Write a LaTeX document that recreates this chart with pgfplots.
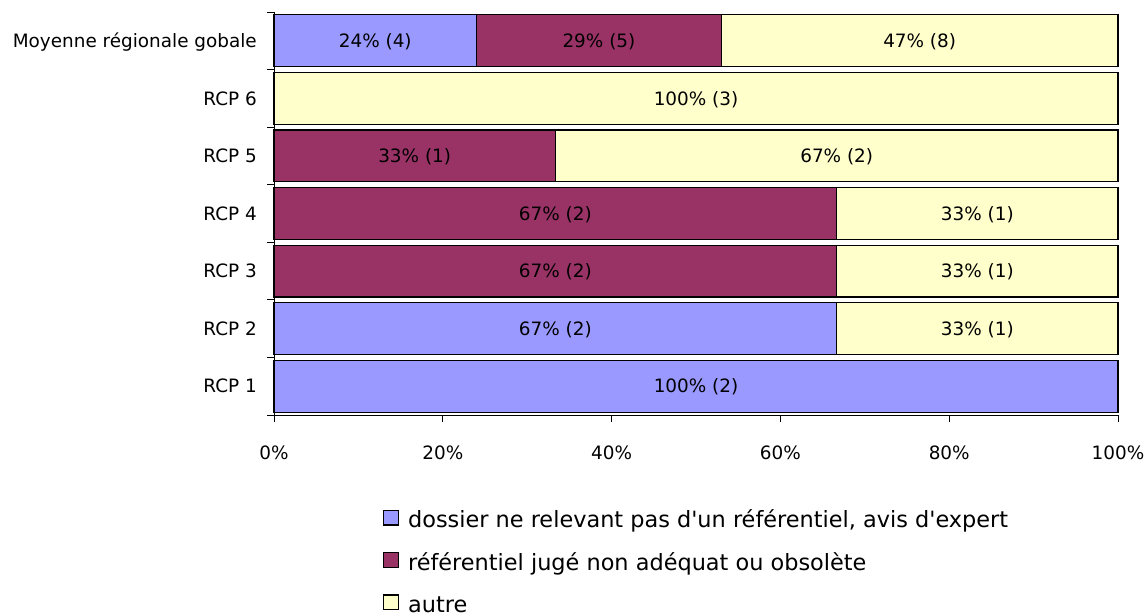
\documentclass[border=0pt]{standalone}
\usepackage{fontspec}
\setmainfont{DejaVu Sans}
\usepackage{pgfplots}
\pgfplotsset{compat=1.18}
\usepackage{pgfplotstable}
\definecolor{cblue}{HTML}{9999FF}
\definecolor{cmaroon}{HTML}{993366}
\definecolor{cyellow}{HTML}{FFFFCC}
\newcommand{\cfont}{\fontsize{13.8}{16}\selectfont}
\newcommand{\lfont}{\fontsize{16.8}{20}\selectfont}

\pgfplotstableread{
y blue maroon yellow
0 100 0 0
1 66.67 0 33.33
2 0 66.67 33.33
3 0 66.67 33.33
4 0 33.33 66.67
5 0 0 100
6 24 29 47
}\bars

\pgfplotstableread[col sep=comma]{
x,y,label
50,0,100\% (2)
33.33,1,67\% (2)
83.33,1,33\% (1)
33.33,2,67\% (2)
83.33,2,33\% (1)
33.33,3,67\% (2)
83.33,3,33\% (1)
16.67,4,33\% (1)
66.67,4,67\% (2)
50,5,100\% (3)
12,6,24\% (4)
38.5,6,29\% (5)
76.5,6,47\% (8)
}\labels

\begin{document}
\begin{tikzpicture}
\begin{axis}[
  at={(205.5pt,148.5pt)}, anchor=south west,
  scale only axis, width=633pt, height=302.25pt,
  xbar stacked, bar width=0.9,
  xmin=0, xmax=100, ymin=-0.5, ymax=6.5,
  clip=false,
  axis x line*=bottom, axis y line*=left,
  axis line style={black, line width=0.6pt},
  tick style={black, line width=0.6pt},
  tick align=outside, major tick length=5pt,
  xtick={0,20,...,100},
  xticklabel={\pgfmathprintnumber{\tick}\%},
  xticklabel style={anchor=center, text height=10pt, text depth=0pt, inner sep=0pt, yshift=-23.5pt},
  ytick={-0.5,0.5,1.5,2.5,3.5,4.5,5.5,6.5},
  yticklabels={RCP 1,RCP 2,RCP 3,RCP 4,RCP 5,RCP 6,Moyenne régionale gobale,{}},
  yticklabel style={anchor=east, text height=10pt, text depth=0pt, inner sep=0pt, xshift=-7.75pt, yshift=21.59pt},
  /pgf/number format/assume math mode=true,
  tick label style={font=\cfont},
  legend image code/.code={\draw[#1] (0pt,-5.6pt) rectangle (11.25pt,5.6pt);},
  legend style={at={(0.129,-0.224)}, anchor=north west, draw=none, fill=none,
    font=\lfont, row sep={31.8pt,between origins}, column sep=6.75pt,
    inner sep=0pt, outer sep=0pt, nodes={inner sep=0pt, outer sep=0pt},
    cells={anchor=west},
    /tikz/every even column/.append style={text height=17pt, text depth=2.8pt}},
]
\addplot[fill=cblue, draw=black, line width=0.9pt] table[x=blue,y=y]{\bars};
\addlegendentry{dossier ne relevant pas d\textquotesingle un référentiel, avis d\textquotesingle expert}
\addplot[fill=cmaroon, draw=black, line width=0.9pt] table[x=maroon,y=y]{\bars};
\addlegendentry{référentiel jugé non adéquat ou obsolète}
\addplot[fill=cyellow, draw=black, line width=0.9pt] table[x=yellow,y=y]{\bars};
\addlegendentry{autre}
\end{axis}
\begin{axis}[
  at={(205.5pt,148.5pt)}, anchor=south west,
  scale only axis, width=633pt, height=302.25pt,
  xmin=0, xmax=100, ymin=-0.5, ymax=6.5,
  hide axis, clip=false,
]
\addplot[draw=none, mark=none, nodes near coords, nodes near coords align=center,
  point meta=explicit symbolic,
  every node near coord/.append style={font=\cfont, text=black, inner sep=0pt,
    anchor=center, text height=10pt, text depth=0pt}]
  table[x=x,y=y,meta=label,col sep=comma]{\labels};
\end{axis}
\pgfresetboundingbox
\path (0pt,0pt) rectangle (858.75pt,459.75pt);
\end{tikzpicture}
\end{document}
